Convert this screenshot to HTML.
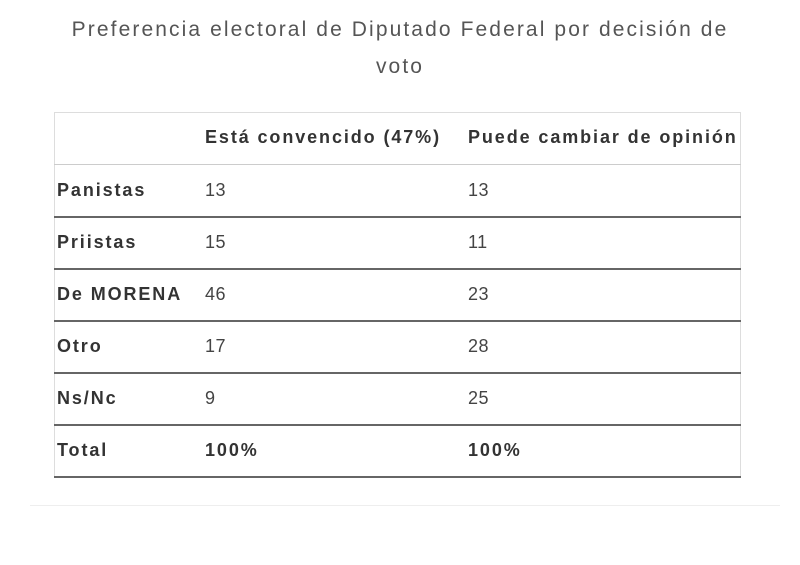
<!DOCTYPE html>
<html><head><meta charset="utf-8"><style>
body{margin:0;width:800px;height:565px;background:#fff;font-family:"Liberation Sans",sans-serif;position:relative;overflow:hidden}
.t{position:absolute;left:0;width:800px;text-align:center;color:#555;font-size:21px;letter-spacing:2.1px}
.tb{position:absolute;left:54px;top:112px;width:687px;height:365px;border:1px solid #ddd;border-bottom:none;box-sizing:border-box}
.r{position:absolute;left:54px;width:687px;height:2px;background:#666}
.c{position:absolute;font-size:18px;color:#444;letter-spacing:0.5px;white-space:nowrap}
.b{font-weight:bold;color:#333;letter-spacing:1.9px}
</style></head><body>
<div class="t" style="top:18px">Preferencia electoral de Diputado Federal por decisión de</div>
<div class="t" style="top:55px">voto</div>
<div class="tb"></div>
<div class="r" style="top:164px;height:1px;background:#ccc"></div>
<div class="r" style="top:216px"></div>
<div class="r" style="top:268px"></div>
<div class="r" style="top:320px"></div>
<div class="r" style="top:372px"></div>
<div class="r" style="top:424px"></div>
<div class="r" style="top:476px"></div>
<div style="position:absolute;left:30px;top:505px;width:750px;height:1px;background:#eee"></div>
<div class="c b" style="left:205px;top:127px">Está convencido (47%)</div>
<div class="c b" style="left:468px;top:127px">Puede cambiar de opinión</div>
<div class="c b" style="left:57px;top:180px">Panistas</div><div class="c" style="left:205px;top:180px">13</div><div class="c" style="left:468px;top:180px">13</div>
<div class="c b" style="left:57px;top:232px">Priistas</div><div class="c" style="left:205px;top:232px">15</div><div class="c" style="left:468px;top:232px">11</div>
<div class="c b" style="left:57px;top:284px">De MORENA</div><div class="c" style="left:205px;top:284px">46</div><div class="c" style="left:468px;top:284px">23</div>
<div class="c b" style="left:57px;top:336px">Otro</div><div class="c" style="left:205px;top:336px">17</div><div class="c" style="left:468px;top:336px">28</div>
<div class="c b" style="left:57px;top:388px">Ns/Nc</div><div class="c" style="left:205px;top:388px">9</div><div class="c" style="left:468px;top:388px">25</div>
<div class="c b" style="left:57px;top:440px">Total</div><div class="c b" style="left:205px;top:440px">100%</div><div class="c b" style="left:468px;top:440px">100%</div>
</body></html>
